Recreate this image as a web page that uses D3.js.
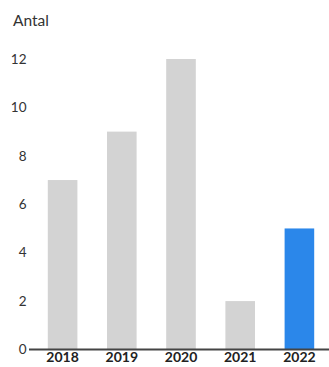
<!DOCTYPE html>
<html>
<head>
<meta charset="utf-8">
<script src="https://cdn.jsdelivr.net/npm/d3@7"></script>
<style>
  body { margin: 0; background: #fff; }
  svg { display: block; font-family: "Lato", "Noto Sans", sans-serif; }
</style>
</head>
<body>
<div id="chart"></div>
<script>
var years = ['2018', '2019', '2020', '2021', '2022'];
var counts = [7, 9, 12, 2, 5];
var yTicks = [0, 2, 4, 6, 8, 10, 12];
var yLabel = 'Antal';

var width = 329, height = 367;
var margin = {top: 59, right: 0, bottom: 17.5, left: 33};

var data = years.map(function(y, i) { return {year: y, count: counts[i]}; });

var svg = d3.select('#chart').append('svg')
    .attr('width', width)
    .attr('height', height);

var x = d3.scaleBand()
    .domain(years)
    .range([margin.left, width - margin.right])
    .paddingInner(0.5)
    .paddingOuter(0.25);

var y = d3.scaleLinear()
    .domain([0, 12])
    .range([height - margin.bottom, margin.top]);

// bars, the latest year is highlighted
svg.selectAll('rect.bar')
    .data(data)
  .enter().append('rect')
    .attr('class', 'bar')
    .attr('x', function(d) { return x(d.year); })
    .attr('width', x.bandwidth())
    .attr('y', function(d) { return y(d.count); })
    .attr('height', function(d) { return y(0) - y(d.count); })
    .style('fill', function(d, i) { return i === data.length - 1 ? '#2b87ea' : '#d3d3d3'; });

// y axis labels, no line
var yAxis = svg.append('g')
    .attr('transform', 'translate(26.5,0)')
    .call(d3.axisLeft(y).tickValues(yTicks).tickSize(0).tickPadding(0));
yAxis.select('.domain').remove();
yAxis.selectAll('text')
    .style('font-family', '"Lato", "Noto Sans", sans-serif')
    .style('font-size', '13.5px')
    .style('fill', '#333');

// baseline
svg.append('line')
    .attr('x1', 29)
    .attr('x2', width)
    .attr('y1', y(0))
    .attr('y2', y(0))
    .style('stroke', '#444')
    .style('stroke-width', 2);

// year labels
var xAxis = svg.append('g')
    .attr('transform', 'translate(0,' + (y(0) + 1) + ')')
    .call(d3.axisBottom(x).tickSize(0).tickPadding(2));
xAxis.select('.domain').remove();
xAxis.selectAll('text')
    .style('font-family', '"Lato", "Noto Sans", sans-serif')
    .style('font-size', '14px')
    .style('font-weight', 'bold')
    .style('fill', '#222');

svg.append('text')
    .attr('x', 13)
    .attr('y', 26)
    .text(yLabel)
    .style('font-size', '15.5px')
    .style('fill', '#333');
</script>
</body>
</html>
